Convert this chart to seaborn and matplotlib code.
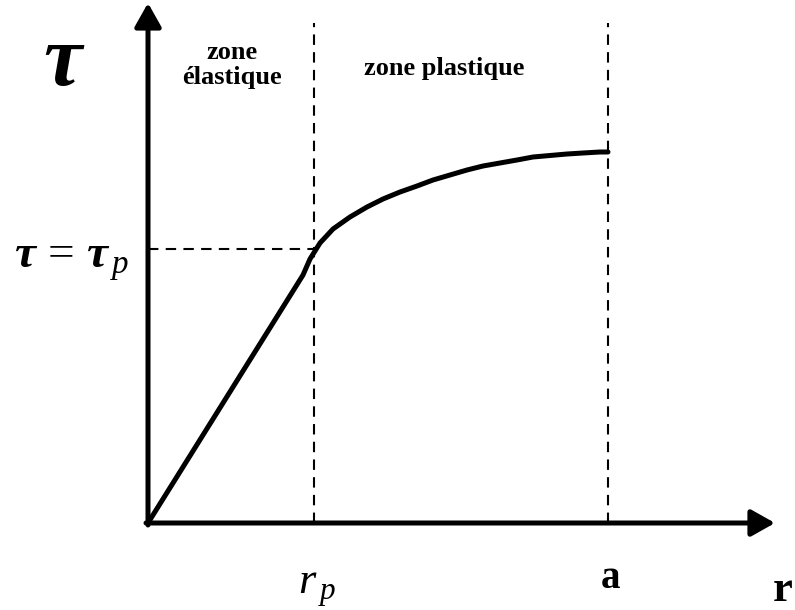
import numpy as np
import pandas as pd
import matplotlib
matplotlib.use('Agg')
import matplotlib.pyplot as plt
import seaborn as sns

# Curve (r, tau), arbitrary units
r_curve = [0, 155, 162, 172, 185, 202, 219, 235, 252, 269, 285, 302, 319, 335,
           352, 369, 385, 402, 419, 435, 452, 460]
tau_curve = [0, 248, 264, 280, 294, 306, 316, 324, 331, 337, 343, 348, 353, 357,
             360, 363, 366, 367.5, 369, 370, 371, 371]
r_p = 166
a_val = 460
tau_p = 274
dash_top = 500
x_arrow_end = 627
y_arrow_end = 520

sns.set_style('white')
plt.rcParams['font.family'] = ['Liberation Serif', 'DejaVu Serif']
plt.rcParams['text.color'] = 'black'
plt.rcParams['mathtext.fontset'] = 'custom'
plt.rcParams['mathtext.rm'] = 'Liberation Serif'
plt.rcParams['mathtext.it'] = 'Liberation Serif:italic'
plt.rcParams['mathtext.bf'] = 'Liberation Serif:italic:bold'

fig = plt.figure(figsize=(7.95, 6.1), dpi=100)
ax = fig.add_axes([0, 0, 1, 1])
ax.set_xlim(-148, 647)
ax.set_ylim(-87, 523)
ax.axis('off')

df = pd.DataFrame({'r': r_curve, 'tau': tau_curve})
sns.lineplot(data=df, x='r', y='tau', sort=False, estimator=None,
             color='black', lw=3.6, ax=ax, solid_joinstyle='round')

# axes with arrows
arrow = dict(arrowstyle='-|>,head_length=0.8,head_width=0.45', mutation_scale=18,
             lw=3.6, color='black', shrinkA=0, shrinkB=0)
ax.annotate('', xy=(x_arrow_end, 0), xytext=(-2, 0), arrowprops=arrow)
ax.annotate('', xy=(0, y_arrow_end), xytext=(0, -2), arrowprops=arrow)

# dashed guides
dash = dict(color='black', lw=1.5, linestyle=(0, (5, 3.5)))
ax.plot([r_p, r_p], [0, dash_top], **dash)
ax.plot([a_val, a_val], [0, dash_top], **dash)
ax.plot([0, r_p], [tau_p, tau_p], **dash)

# labels
ax.text(-86, 459, 'τ', fontsize=62, fontstyle='italic', fontweight='bold',
        ha='center', va='center')
ax.text(-134, tau_p - 13, r'$\mathbf{\tau}\,=\,\mathbf{\tau}_{\,p}$', fontsize=34,
        ha='left', va='center')
ax.text(r_p + 3, -66, r'$r_{\,p}$', fontsize=32, ha='center', va='center')
ax.text(a_val + 3, -55, 'a', fontsize=28, fontweight='bold', ha='center', va='center')
ax.text(635, -67, 'r', fontsize=32, fontweight='bold', ha='center', va='center')
ax.text(84, 458, 'zone\nélastique', fontsize=19, fontweight='bold',
        ha='center', va='center', linespacing=1.15)
ax.text(296, 455, 'zone plastique', fontsize=19, fontweight='bold',
        ha='center', va='center')

fig.savefig('out.png', dpi=100)
